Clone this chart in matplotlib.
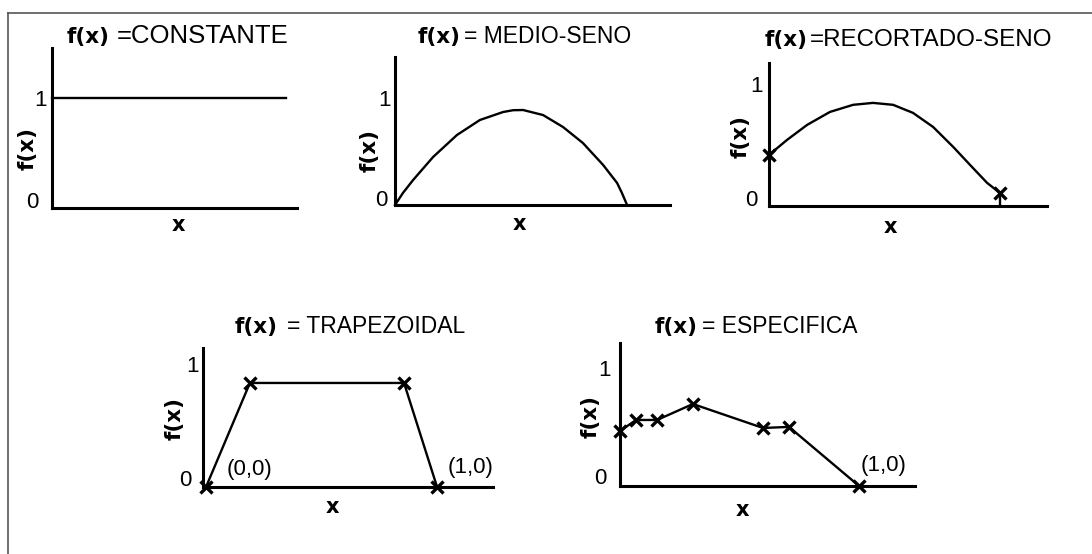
import matplotlib.pyplot as plt
from matplotlib.lines import Line2D

# --- datos de cada funcion f(x) ---
const_x = [0.0, 1.0]
const_y = [1.0, 1.0]

medio_x = [0.0, 0.034, 0.078, 0.164, 0.267, 0.366, 0.466, 0.509, 0.552, 0.638, 0.724,
           0.810, 0.897, 0.957, 0.978, 1.0]
medio_y = [0.0, 0.114, 0.238, 0.457, 0.667, 0.810, 0.886, 0.903, 0.905, 0.857, 0.743,
           0.590, 0.381, 0.210, 0.114, 0.0]

recort_x = [0.0, 0.078, 0.165, 0.264, 0.364, 0.450, 0.537, 0.623, 0.710, 0.797, 0.870, 0.944, 1.0]
recort_y = [0.425, 0.55, 0.675, 0.783, 0.842, 0.858, 0.842, 0.775, 0.658, 0.492, 0.342, 0.192, 0.108]

trap_x = [0.0, 0.19, 0.857, 1.0]
trap_y = [0.0, 0.86, 0.86, 0.0]

espec_x = [0.0, 0.067, 0.155, 0.305, 0.598, 0.707, 1.0]
espec_y = [0.482, 0.579, 0.579, 0.719, 0.509, 0.518, 0.0]

titulos = ["CONSTANTE", "MEDIO-SENO", "RECORTADO-SENO", "TRAPEZOIDAL", "ESPECIFICA"]

W, H = 1092, 554
fig = plt.figure(figsize=(W / 100, H / 100), dpi=100)

TITLE_FONT = 'Liberation Sans'
BOLD_FONT = 'DejaVu Sans'


def fx(x):
    return x / W


def fy(y):
    return 1 - y / H


def panel(l, r, t, b, xlim, ylim):
    ax = fig.add_axes([fx(l), fy(b), (r - l) / W, (b - t) / H])
    ax.set_xlim(*xlim)
    ax.set_ylim(*ylim)
    for s in ['top', 'right']:
        ax.spines[s].set_visible(False)
    for s in ['left', 'bottom']:
        ax.spines[s].set_linewidth(2.2)
        ax.spines[s].set_color('black')
    ax.set_xticks([])
    ax.set_yticks([])
    ax.patch.set_alpha(0)
    return ax


def txt(x, y, s, size=14, bold=False, rot=0, ha='center', va='center', family=None):
    fig.text(fx(x), fy(y), s, fontsize=size, rotation=rot, ha=ha, va=va,
             fontweight='bold' if bold else 'normal',
             family=family or (BOLD_FONT if bold else TITLE_FONT))


def titulo(x_split, x_right, y_base, resto, size=16.5):
    txt(x_split, y_base, "f(x)", size=15.5, bold=True, ha='right', va='baseline')
    txt(x_right, y_base, resto, size=size, ha='left', va='baseline')


def etiquetas(uno, cero, ylab, xlab):
    txt(*uno, "1", size=16)
    txt(*cero, "0", size=16)
    txt(*ylab, "f(x)", size=15.5, bold=True, rot=90)
    txt(*xlab, "x", size=15, bold=True)


lw = 1.7
mk = dict(marker='x', markersize=8.5, mew=2.4, color='black')

# f(x) = constante
ax1 = panel(52, 297, 48, 208, (0, 1.047), (0, 1.455))
ax1.plot(const_x, const_y, color='black', lw=lw, clip_on=False)
titulo(110, 117, 43, "=" + titulos[0], size=18.5)
etiquetas((40, 101), (32, 202), (28, 148), (178, 225))

# f(x) = medio-seno
ax2 = panel(395, 670, 57, 205, (0, 1.185), (0, 1.41))
ax2.plot(medio_x, medio_y, color='black', lw=lw, clip_on=False, solid_joinstyle='round')
titulo(461, 464, 43, "= " + titulos[1])
etiquetas((384, 100), (381, 201), (370, 150), (519, 224))

# f(x) = recortado-seno
ax3 = panel(769, 1047, 63, 206, (0, 1.203), (0, 1.19))
ax3.plot(recort_x, recort_y, color='black', lw=lw, clip_on=False, solid_joinstyle='round')
ax3.plot([recort_x[0], recort_x[-1]], [recort_y[0], recort_y[-1]], ls='none', clip_on=False, **mk)
ax3.vlines(recort_x[-1], 0, recort_y[-1], color='black', lw=lw)
titulo(808, 810, 46, "=" + titulos[2], size=17.4)
etiquetas((757, 86), (751, 200), (741, 137), (890, 227))

# f(x) = trapezoidal
ax4 = panel(203, 493, 348, 487, (-0.013, 1.242), (0, 1.149))
ax4.plot(trap_x, trap_y, lw=lw, clip_on=False, **mk)
titulo(278, 287, 333, "= " + titulos[3])
etiquetas((193, 366), (185, 481), (175, 418), (332, 507))
txt(250, 470, "(0,0)", size=16)
txt(471, 467, "(1,0)", size=16)

# f(x) = especifica
ax5 = panel(620, 915, 343, 486, (0, 1.234), (0, 1.254))
ax5.plot(espec_x, espec_y, lw=lw, clip_on=False, **mk)
titulo(698, 702, 333, "= " + titulos[4])
etiquetas((605, 371), (600, 479), (591, 417), (742, 510))
txt(884, 465, "(1,0)", size=16)

# marco
fig.add_artist(Line2D([fx(8), 1], [fy(12.5), fy(12.5)], transform=fig.transFigure,
                      color='#555555', lw=1.2))
fig.add_artist(Line2D([fx(8), fx(8)], [0, fy(12.5)], transform=fig.transFigure,
                      color='#555555', lw=1.2))

fig.savefig('out.png', dpi=100, facecolor='white')
